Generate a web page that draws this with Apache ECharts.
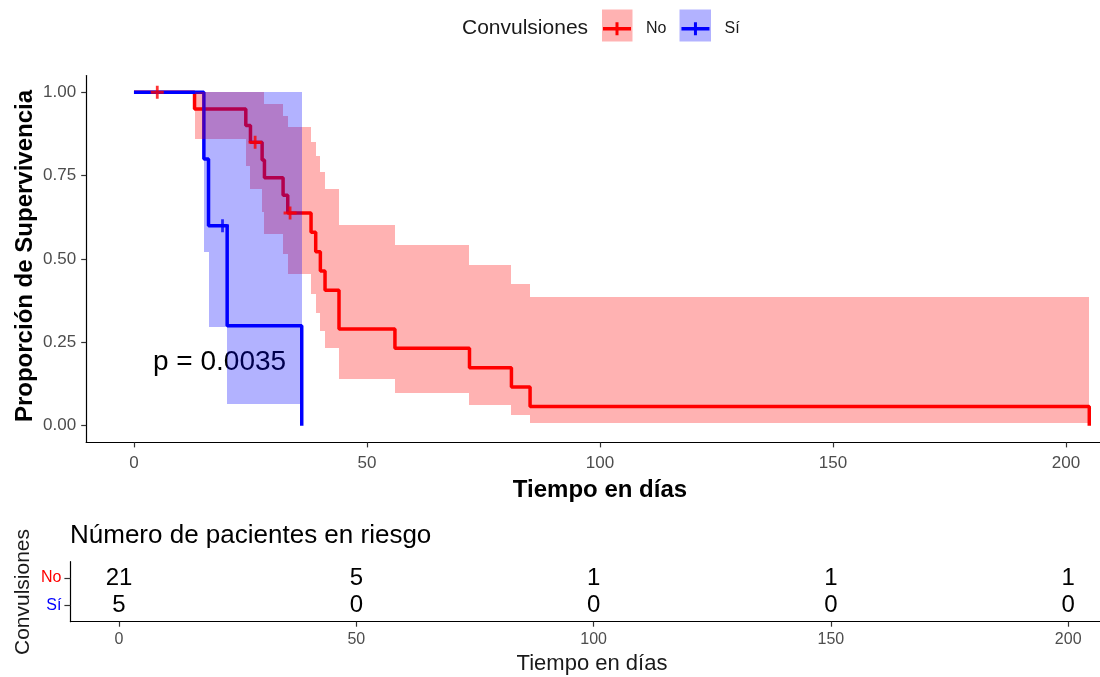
<!DOCTYPE html>
<html>
<head>
<meta charset="utf-8">
<script src="https://cdn.jsdelivr.net/npm/echarts@6/dist/echarts.min.js"></script>
<style>
html, body { margin: 0; padding: 0; background: #fff; }
#chart { width: 1100px; height: 677px; }
</style>
</head>
<body>
<div id="chart"></div>
<script>
// Kaplan-Meier curves
const noTimes = [0, 13, 24, 25, 27.5, 28, 32, 33, 38, 39, 40, 41, 44, 56, 72, 81, 85, 205];
const noSurv  = [1, 0.95, 0.90, 0.85, 0.797, 0.744, 0.691, 0.638, 0.58, 0.522, 0.464, 0.406, 0.29, 0.232, 0.174, 0.116, 0.058, 0];
const noLower = [1, 0.86, 0.78, 0.71, 0.64, 0.575, 0.515, 0.455, 0.395, 0.338, 0.283, 0.232, 0.14, 0.099, 0.063, 0.032, 0.009, 0.009];
const noUpper = [1, 1, 1, 1, 1, 0.966, 0.93, 0.895, 0.852, 0.808, 0.761, 0.71, 0.601, 0.543, 0.483, 0.425, 0.387, 0.387];

const siTimes = [0, 15, 16, 20, 36];
const siSurv  = [1, 0.8, 0.6, 0.3, 0];
const siLower = [1, 0.52, 0.295, 0.065, 0.065];
const siUpper = [1, 1, 1, 1, 1];

// censored observations
const noCensorT = [5, 26, 33.5];
const noCensorS = [1, 0.85, 0.638];
const siCensorT = [19];
const siCensorS = [0.6];

// risk table
const riskTimes = [0, 50, 100, 150, 200];
const riskNo = [21, 5, 1, 1, 1];
const riskSi = [5, 0, 0, 0, 0];

const xTicks = [0, 50, 100, 150, 200];
const yTicks = [0, 0.25, 0.5, 0.75, 1];

const FONT = "'Liberation Sans', Arial, sans-serif";
const RED = '#ff0000';
const BLUE = '#0000ff';
const PLUS = 'path://M0,5.5h14v3h-14z M5.5,0h3v14h-3z';

const pairs = (xs, ys) => xs.map((x, i) => [x, ys[i]]);

// one rect per step of the confidence band
function bandSeries(name, times, lower, upper, fill) {
    const data = [];
    for (let i = 0; i < times.length - 1; i++) {
        if (upper[i] > lower[i]) data.push([times[i], times[i + 1], lower[i], upper[i]]);
    }
    return {
        name: name,
        type: 'custom',
        xAxisIndex: 0,
        yAxisIndex: 0,
        z: 3,
        silent: true,
        clip: true,
        encode: {x: [0, 1], y: [2, 3]},
        data: data,
        renderItem: (params, api) => {
            const p0 = api.coord([api.value(0), api.value(3)]);
            const p1 = api.coord([api.value(1), api.value(2)]);
            const x0 = Math.round(p0[0]), x1 = Math.round(p1[0]);
            const y0 = Math.round(p0[1]), y1 = Math.round(p1[1]);
            return {
                type: 'rect',
                shape: {x: x0, y: y0, width: x1 - x0, height: y1 - y0},
                style: {fill: fill}
            };
        }
    };
}

function riskSeries(name, row, counts) {
    return {
        name: name,
        type: 'scatter',
        xAxisIndex: 1,
        yAxisIndex: 1,
        silent: true,
        symbolSize: 1,
        itemStyle: {opacity: 0},
        data: riskTimes.map((t, i) => [t, row, counts[i]]),
        label: {
            show: true,
            position: 'inside',
            formatter: p => String(p.value[2]),
            fontSize: 24,
            fontFamily: FONT,
            color: '#000',
            opacity: 1
        }
    };
}

const axisText = {fontFamily: FONT, color: '#4d4d4d'};

const option = {
    animation: false,
    backgroundColor: '#fff',
    textStyle: {fontFamily: FONT},
    grid: [
        {left: 86.2, top: 75.6, width: 1013.8, height: 366.8, outerBoundsMode: 'none', containLabel: false},
        {left: 70.4, top: 561.7, width: 1029.6, height: 60, outerBoundsMode: 'none', containLabel: false}
    ],
    legend: {
        data: ['No', 'Sí'],
        left: 603,
        top: 20.8,
        padding: 0,
        itemWidth: 28,
        itemHeight: 13,
        itemGap: 15,
        icon: 'path://M0,4.75h28v3.5h-28z M12.5,0h3v13h-3z',
        selectedMode: false,
        z: 5,
        textStyle: {fontSize: 16, color: '#1a1a1a', fontFamily: FONT, padding: [0, 0, 0, 10]}
    },
    xAxis: [
        {
            gridIndex: 0, type: 'value', min: -10.25, max: 207.3,
            axisLine: {show: true, onZero: false, lineStyle: {color: '#000', width: 1.2}},
            axisTick: {show: true, customValues: xTicks, length: 5, lineStyle: {color: '#333', width: 1.2}},
            axisLabel: Object.assign({customValues: xTicks, fontSize: 17, margin: 12}, axisText),
            splitLine: {show: false}
        },
        {
            gridIndex: 1, type: 'value', min: -10.25, max: 206.7,
            axisLine: {show: true, onZero: false, lineStyle: {color: '#000', width: 1.2}},
            axisTick: {show: true, customValues: xTicks, length: 5, lineStyle: {color: '#333', width: 1.2}},
            axisLabel: Object.assign({customValues: xTicks, fontSize: 16, margin: 10}, axisText),
            splitLine: {show: false}
        }
    ],
    yAxis: [
        {
            gridIndex: 0, type: 'value', min: -0.05, max: 1.05,
            axisLine: {show: true, onZero: false, lineStyle: {color: '#000', width: 1.2}},
            axisTick: {show: true, customValues: yTicks, length: 5, lineStyle: {color: '#333', width: 1.2}},
            axisLabel: Object.assign({customValues: yTicks, fontSize: 17, margin: 10, formatter: v => v.toFixed(2)}, axisText),
            splitLine: {show: false}
        },
        {
            gridIndex: 1, type: 'value', min: 0.4, max: 2.6,
            axisLine: {show: true, onZero: false, lineStyle: {color: '#000', width: 1.2}},
            axisTick: {show: true, customValues: [1, 2], length: 6, lineStyle: {color: '#333', width: 1.2}},
            axisLabel: {
                customValues: [1, 2], margin: 9, fontFamily: FONT,
                formatter: v => (v === 2 ? '{no|No}' : '{si|Sí}'),
                rich: {
                    no: {color: RED, fontSize: 16, fontFamily: FONT},
                    si: {color: BLUE, fontSize: 16, fontFamily: FONT}
                }
            },
            splitLine: {show: false}
        }
    ],
    series: [
        {
            name: 'No', type: 'line', step: 'end', xAxisIndex: 0, yAxisIndex: 0, z: 2,
            data: pairs(noTimes, noSurv), symbol: 'none', showSymbol: false, silent: true,
            lineStyle: {color: RED, width: 3.5}, itemStyle: {color: RED}
        },
        {
            name: 'Sí', type: 'line', step: 'end', xAxisIndex: 0, yAxisIndex: 0, z: 2,
            data: pairs(siTimes, siSurv), symbol: 'none', showSymbol: false, silent: true,
            lineStyle: {color: BLUE, width: 3.5}, itemStyle: {color: BLUE}
        },
        bandSeries('IC No', noTimes, noLower, noUpper, 'rgba(255,0,0,0.3)'),
        bandSeries('IC Sí', siTimes, siLower, siUpper, 'rgba(0,0,255,0.3)'),
        {
            name: 'Censura No', type: 'scatter', xAxisIndex: 0, yAxisIndex: 0, z: 4, silent: true,
            symbol: PLUS, symbolSize: 13, itemStyle: {color: RED},
            data: pairs(noCensorT, noCensorS)
        },
        {
            name: 'Censura Sí', type: 'scatter', xAxisIndex: 0, yAxisIndex: 0, z: 4, silent: true,
            symbol: PLUS, symbolSize: 13, itemStyle: {color: BLUE},
            data: pairs(siCensorT, siCensorS)
        },
        riskSeries('Riesgo No', 2, riskNo),
        riskSeries('Riesgo Sí', 1, riskSi)
    ],
    graphic: {
        elements: [
            {type: 'rect', z: 0, shape: {x: 602, y: 9.5, width: 30.5, height: 32}, style: {fill: 'rgba(255,0,0,0.3)'}},
            {type: 'rect', z: 0, shape: {x: 679.5, y: 9.5, width: 31.5, height: 32}, style: {fill: 'rgba(0,0,255,0.3)'}},
            {type: 'text', x: 462, y: 28.5, style: {text: 'Convulsiones', fontSize: 21, fontFamily: FONT, fill: '#1a1a1a', align: 'left', verticalAlign: 'middle'}},
            {type: 'text', x: 153, y: 362, style: {text: 'p = 0.0035', fontSize: 28, fontFamily: FONT, fill: '#000', align: 'left', verticalAlign: 'middle'}},
            {type: 'text', x: 600, y: 490, style: {text: 'Tiempo en días', fontSize: 24, fontWeight: 'bold', fontFamily: FONT, fill: '#000', align: 'center', verticalAlign: 'middle'}},
            {type: 'text', x: 25, y: 256, rotation: Math.PI / 2, style: {text: 'Proporción de Supervivencia', fontSize: 24, fontWeight: 'bold', fontFamily: FONT, fill: '#000', align: 'center', verticalAlign: 'middle'}},
            {type: 'text', x: 70, y: 536, style: {text: 'Número de pacientes en riesgo', fontSize: 26, fontFamily: FONT, fill: '#000', align: 'left', verticalAlign: 'middle'}},
            {type: 'text', x: 23, y: 592, rotation: Math.PI / 2, style: {text: 'Convulsiones', fontSize: 21, fontFamily: FONT, fill: '#1a1a1a', align: 'center', verticalAlign: 'middle'}},
            {type: 'text', x: 592, y: 664.4, style: {text: 'Tiempo en días', fontSize: 22, fontFamily: FONT, fill: '#1a1a1a', align: 'center', verticalAlign: 'middle'}}
        ]
    }
};

const myChart = echarts.init(document.getElementById('chart'));
myChart.setOption(option);
</script>
</body>
</html>
